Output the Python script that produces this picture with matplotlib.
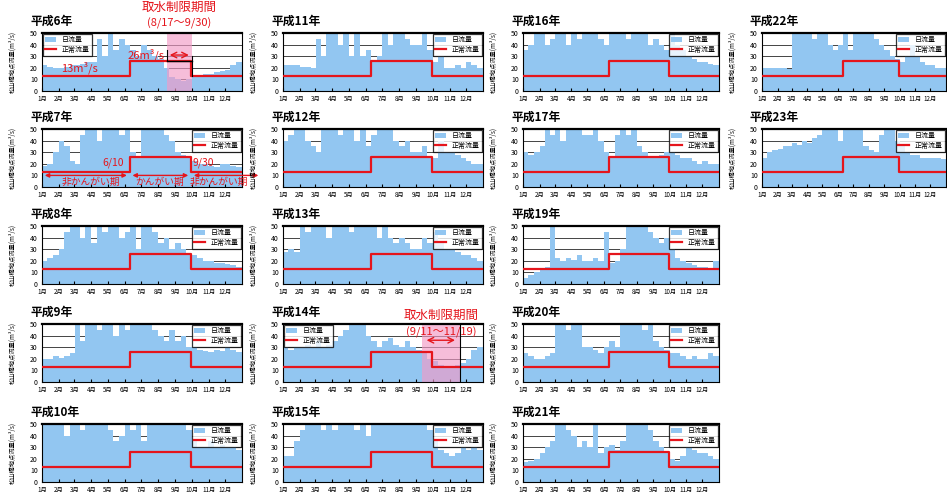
import numpy as np
import matplotlib
matplotlib.use('Agg')
import matplotlib.pyplot as plt
from matplotlib.lines import Line2D
from matplotlib.patches import Patch

plt.rcParams['font.family'] = ['Noto Sans CJK JP', 'DejaVu Sans']

# ---------------- data ----------------
months = ['1月', '2月', '3月', '4月', '5月', '6月', '7月', '8月', '9月', '10月', '11月', '12月']
month_days = [31, 28, 31, 30, 31, 30, 31, 31, 30, 31, 30, 31]

# normal flow (正常流量) m3/s
normal_breaks = ['6/10', '9/30']
normal_levels = [13, 26, 13]

# daily flow, read per 10-day period (上旬・中旬・下旬) for each month, m3/s (clipped at 50 in the chart)
flow_h06 = [22, 21, 20, 20, 21, 22, 22, 23, 25, 25, 45, 30, 50, 35, 45, 40, 35, 30,
            40, 35, 30, 28, 20, 12, 10, 9, 10, 13, 14, 15, 15, 16, 17, 18, 22, 25]
flow_h07 = [18, 20, 30, 40, 35, 22, 20, 45, 50, 50, 40, 50, 50, 50, 45, 50, 30, 25,
            50, 50, 50, 50, 45, 40, 30, 28, 25, 22, 20, 20, 18, 17, 20, 20, 18, 17]
flow_h08 = [20, 22, 25, 30, 45, 50, 50, 40, 50, 35, 50, 45, 50, 50, 40, 45, 50, 30,
            50, 50, 45, 35, 40, 30, 35, 30, 25, 25, 22, 20, 20, 18, 18, 17, 16, 15]
flow_h09 = [20, 20, 22, 21, 22, 25, 50, 35, 50, 50, 45, 50, 50, 40, 50, 45, 50, 50,
            50, 50, 45, 40, 35, 45, 35, 40, 30, 30, 28, 27, 26, 28, 27, 30, 28, 26]
flow_h10 = [50, 50, 50, 50, 40, 50, 50, 45, 50, 50, 50, 50, 45, 35, 40, 50, 45, 50,
            35, 50, 50, 50, 50, 50, 50, 50, 45, 35, 30, 30, 35, 30, 32, 30, 30, 28]
flow_h11 = [22, 22, 22, 21, 21, 20, 45, 30, 50, 50, 40, 50, 30, 50, 30, 35, 25, 30,
            50, 40, 50, 50, 45, 40, 40, 50, 35, 25, 30, 20, 20, 22, 20, 25, 22, 20]
flow_h12 = [40, 45, 50, 50, 40, 35, 30, 50, 50, 50, 45, 50, 50, 40, 50, 35, 45, 50,
            50, 50, 40, 35, 40, 30, 30, 35, 25, 25, 40, 30, 30, 28, 25, 22, 20, 20]
flow_h13 = [28, 30, 28, 50, 45, 50, 50, 50, 40, 50, 50, 50, 45, 50, 50, 50, 50, 40,
            50, 40, 35, 40, 35, 30, 30, 40, 35, 45, 35, 30, 30, 28, 25, 25, 22, 20]
flow_h14 = [30, 28, 30, 30, 32, 30, 35, 30, 32, 35, 40, 45, 50, 50, 50, 40, 35, 30,
            35, 38, 32, 30, 35, 30, 28, 25, 20, 18, 15, 14, 14, 15, 16, 20, 28, 30]
flow_h15 = [22, 22, 35, 45, 50, 50, 50, 45, 50, 45, 50, 50, 50, 45, 50, 40, 50, 50,
            50, 50, 50, 50, 50, 50, 50, 50, 45, 35, 28, 25, 22, 25, 30, 28, 30, 28]
flow_h16 = [35, 40, 50, 50, 40, 45, 50, 50, 40, 50, 45, 50, 50, 50, 45, 40, 50, 50,
            50, 45, 50, 50, 50, 40, 45, 40, 35, 50, 40, 35, 30, 28, 25, 25, 23, 22]
flow_h17 = [30, 28, 30, 35, 50, 45, 50, 40, 50, 50, 50, 45, 45, 50, 40, 30, 25, 45,
            50, 45, 50, 35, 30, 25, 25, 28, 30, 30, 28, 25, 25, 22, 20, 22, 20, 20]
flow_h19 = [5, 8, 10, 12, 15, 50, 22, 20, 22, 21, 25, 20, 20, 22, 20, 45, 18, 20,
            30, 50, 50, 50, 50, 45, 40, 35, 40, 30, 22, 20, 18, 16, 15, 15, 14, 20]
flow_h20 = [25, 22, 20, 20, 22, 25, 50, 50, 45, 50, 50, 30, 30, 28, 25, 30, 35, 30,
            50, 50, 50, 50, 45, 50, 35, 30, 28, 25, 25, 22, 20, 22, 20, 20, 25, 22]
flow_h21 = [17, 18, 20, 25, 30, 35, 50, 50, 45, 40, 30, 35, 30, 50, 25, 30, 32, 28,
            35, 50, 50, 50, 50, 45, 35, 30, 25, 20, 18, 22, 30, 28, 25, 25, 22, 20]
flow_h22 = [20, 20, 20, 20, 20, 19, 50, 50, 50, 50, 45, 50, 50, 40, 35, 40, 50, 35,
            50, 50, 50, 50, 45, 40, 35, 30, 28, 25, 30, 40, 30, 25, 22, 22, 20, 20]
flow_h23 = [25, 30, 32, 33, 35, 35, 38, 36, 40, 38, 42, 45, 50, 50, 50, 40, 50, 50,
            50, 50, 35, 32, 30, 45, 50, 50, 40, 35, 30, 28, 28, 25, 25, 25, 25, 24]

# restriction periods (取水制限期間)
restrict_h06 = ['8/17', '9/30']
restrict_h14 = ['9/11', '11/19']

# ---------------- helpers ----------------
month_start = np.concatenate([[0], np.cumsum(month_days)[:-1]])


def doy(s):
    m, d = (int(t) for t in s.split('/'))
    return month_start[m - 1] + d - 1


def period_x():
    xs = []
    for s, n in zip(month_start, month_days):
        xs += [s + 5, s + 15, s + (20 + n) / 2]
    return np.array(xs, dtype=float)


PX = period_x()
BLUE = '#92C6F1'
RED = '#E5151C'
PINK = '#F29AC6'

W, H = 947, 495
col_left = [42, 283, 523, 762]
col_width = [200, 200, 196, 184]
row_top = [33, 129, 226, 324, 424]
AX_H = 58

panels = [
    ('平成6年', flow_h06, 0, 0, 'upper left'),
    ('平成7年', flow_h07, 0, 1, 'upper right'),
    ('平成8年', flow_h08, 0, 2, 'upper right'),
    ('平成9年', flow_h09, 0, 3, 'upper right'),
    ('平成10年', flow_h10, 0, 4, 'upper right'),
    ('平成11年', flow_h11, 1, 0, 'upper right'),
    ('平成12年', flow_h12, 1, 1, 'upper right'),
    ('平成13年', flow_h13, 1, 2, 'upper right'),
    ('平成14年', flow_h14, 1, 3, 'upper left'),
    ('平成15年', flow_h15, 1, 4, 'upper right'),
    ('平成16年', flow_h16, 2, 0, 'upper right'),
    ('平成17年', flow_h17, 2, 1, 'upper right'),
    ('平成19年', flow_h19, 2, 2, 'upper right'),
    ('平成20年', flow_h20, 2, 3, 'upper right'),
    ('平成21年', flow_h21, 2, 4, 'upper right'),
    ('平成22年', flow_h22, 3, 0, 'upper right'),
    ('平成23年', flow_h23, 3, 1, 'upper right'),
]

fig = plt.figure(figsize=(W / 100, H / 100), dpi=100)
fig.patch.set_facecolor('white')

nx = [0, doy(normal_breaks[0]), doy(normal_breaks[1]), 365]
ny = normal_levels + [normal_levels[-1]]

axes = {}
for title, flow, c, r, loc in panels:
    l, t, w = col_left[c], row_top[r], col_width[c]
    ax = fig.add_axes([l / W, 1 - (t + AX_H) / H, w / W, AX_H / H])
    axes[title] = ax
    ax.set_xlim(0, 365)
    ax.set_ylim(0, 50)
    for g in [10, 20, 30, 40]:
        ax.axhline(g, color='#444444', lw=0.7, zorder=0)
    x = np.concatenate([[0], PX, [365]])
    v = np.array([flow[0]] + list(flow) + [flow[-1]], dtype=float)
    ax.fill_between(x, 0, v, step='mid', color=BLUE, lw=0, zorder=1)
    ax.step(nx, ny, where='post', color=RED, lw=1.6, zorder=3)
    for sp in ax.spines.values():
        sp.set_color('black')
        sp.set_linewidth(0.8)
    ax.spines['top'].set_linewidth(1.6)
    ax.set_yticks([0, 10, 20, 30, 40, 50])
    ax.tick_params(axis='y', labelsize=5, length=0, pad=3)
    ax.set_xticks(month_start)
    ax.set_xticklabels(months)
    ax.tick_params(axis='x', labelsize=4.5, direction='in', length=2, pad=3)
    ax.set_ylabel('松山橋地点流量(m³/s)', fontsize=4.5)
    ax.yaxis.set_label_coords(-26 / w, 0.5)
    ax.text(-12 / w, 1.2, title, transform=ax.transAxes, fontsize=8.5,
            fontweight='bold', ha='left', va='center')
    handles = [Patch(facecolor=BLUE, edgecolor='none'),
               Line2D([0], [0], color=RED, lw=1.6)]
    leg = ax.legend(handles, ['日流量', '正常流量'], loc=loc, fontsize=5,
                    frameon=True, fancybox=False, borderaxespad=0.1,
                    handlelength=1.6, handleheight=0.8, borderpad=0.35,
                    labelspacing=0.25, handletextpad=0.8)
    leg.get_frame().set_edgecolor('black')
    leg.get_frame().set_linewidth(0.9)
    leg.set_zorder(10)

# ---- 平成6年 annotations ----
ax = axes['平成6年']
a, b = doy(restrict_h06[0]), doy(restrict_h06[1]) + 1
ax.axvspan(a, b, color=PINK, alpha=0.65, lw=0, zorder=2)
ax.plot([a, b], [26, 26], color='black', lw=1.0, zorder=4)
ax.plot([b, b], [13, 30], color='black', lw=0.8, zorder=4)
ax.plot([a, a], [26, 35], color='black', lw=0.8, zorder=4)
ax.annotate('', xy=(a, 31), xytext=(b, 31),
            arrowprops=dict(arrowstyle='<->', color=RED, lw=1.0), zorder=5)
ax.text((a + b) / 2, 72, '取水制限期間', color=RED, fontsize=9, ha='center', va='center')
ax.text((a + b) / 2, 58, '(8/17～9/30)', color=RED, fontsize=8, ha='center', va='center')
ax.text(68, 20, '13m³/s', color=RED, fontsize=8, ha='center', va='center', zorder=6)
ax.text(190, 31, '26m³/s', color=RED, fontsize=8, ha='center', va='center', zorder=6)

# ---- 平成7年 annotations ----
ax = axes['平成7年']
d1, d2 = doy(normal_breaks[0]), doy(normal_breaks[1])
for s, e in [(0, d1), (d1, d2), (d2, 400)]:
    ax.annotate('', xy=(s, 10), xytext=(e, 10), annotation_clip=False,
                arrowprops=dict(arrowstyle='<|-|>', color=RED, lw=1.0,
                                mutation_scale=6), zorder=5)
ax.text(89, 4, '非かんがい期', color=RED, fontsize=7, ha='center', va='center', zorder=6)
ax.text(215, 4, 'かんがい期', color=RED, fontsize=7, ha='center', va='center', zorder=6)
ax.text(322, 4, '非かんがい期', color=RED, fontsize=7, ha='center', va='center',
        zorder=6, clip_on=False)
ax.text(130, 21, '6/10', color=RED, fontsize=7.5, ha='center', va='center', zorder=6)
ax.text(295, 21, '9/30', color=RED, fontsize=7.5, ha='center', va='center', zorder=6)

# ---- 平成14年 annotations ----
ax = axes['平成14年']
a, b = doy(restrict_h14[0]), doy(restrict_h14[1]) + 1
ax.axvspan(a, b, color=PINK, alpha=0.65, lw=0, zorder=2)
ax.plot([b, b], [0, 50], color='black', lw=0.8, zorder=4)
ax.annotate('', xy=(a + 4, 36), xytext=(b - 4, 36),
            arrowprops=dict(arrowstyle='<->', color=RED, lw=1.0), zorder=5)
ax.text(289, 57, '取水制限期間', color=RED, fontsize=9, ha='center', va='center')
ax.text(289, 43, '(9/11～11/19)', color=RED, fontsize=8, ha='center', va='center', zorder=6)

fig.savefig('out.png', dpi=100)
